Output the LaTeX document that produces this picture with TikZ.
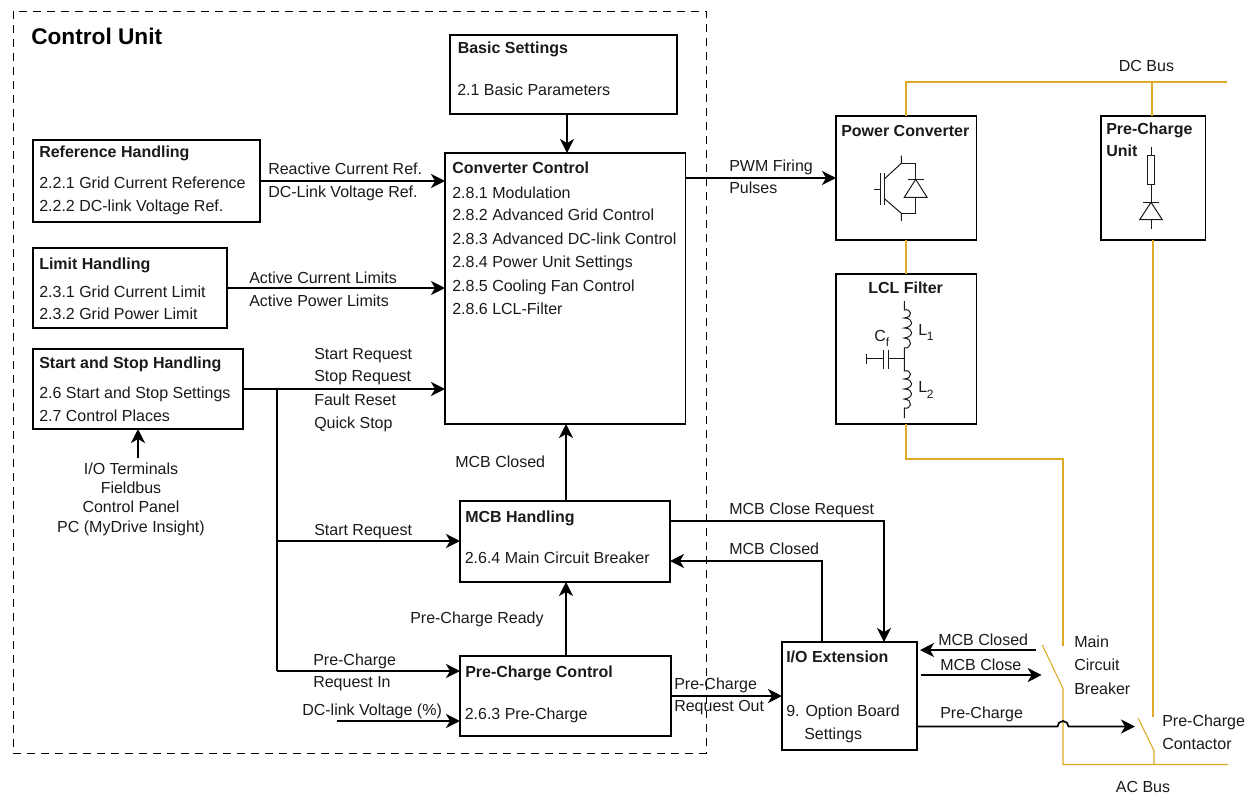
\documentclass[tikz,border=0pt]{standalone}
\usepackage{fontspec}
\setmainfont{Liberation Sans}
\usetikzlibrary{arrows.meta}
\definecolor{bus}{HTML}{D79B00}
\definecolor{ink}{HTML}{1A1A1A}
\tikzset{
  box/.style={draw=black,line width=1.3pt,inner sep=0pt,outer sep=0pt,anchor=north west},
  lbl/.style={anchor=base west,inner sep=0pt,text=ink,font=\fontsize{12pt}{14pt}\selectfont},
  ctr/.style={anchor=base,inner sep=0pt,text=ink,font=\fontsize{12pt}{14pt}\selectfont},
  ttl/.style={anchor=base west,inner sep=0pt,text=ink,font=\fontsize{12pt}{14pt}\selectfont\bfseries},
  sublbl/.style={anchor=base west,inner sep=0pt,text=ink,font=\fontsize{9pt}{10pt}\selectfont},
  arr/.style={draw=black,line width=1.3pt,-{Stealth[length=10.5pt,width=10.5pt,inset=3pt]}},
  wire/.style={draw=black,line width=1.3pt},
  buswire/.style={draw=bus!85,line width=0.8pt},
  sym/.style={draw=ink,line width=0.75pt},
}
\newcommand{\bx}[5]{\node[box,minimum width=#4*0.75pt-#2*0.75pt,minimum height=#5*0.75pt-#3*0.75pt] (#1) at (#2,#3) {};}
\begin{document}
\begin{tikzpicture}[x=0.75pt,y=-0.75pt]
\useasboundingbox (0,0) rectangle (1254,793);
% dashed frame
\node[box,draw=black,line width=0.75pt,dash pattern=on 6pt off 4.5pt,minimum width=693*0.75pt,minimum height=742*0.75pt] (frame) at (13,11) {};
% boxes
\bx{basic}{450}{35}{677}{114}
\bx{ref}{33}{140}{260}{222}
\bx{lim}{33}{248}{227}{328}
\bx{start}{33}{349}{243}{429}
\bx{conv}{445}{153}{685.5}{424}
\bx{mcb}{460}{501}{670}{582}
\bx{pre}{460}{656}{671}{736}
\bx{io}{782}{642}{917}{750}
\bx{pc}{836}{116}{976.5}{240}
\bx{lcl}{836}{274}{976.5}{424}
\bx{pu}{1101}{116}{1205.5}{240}
% bus coordinates
\coordinate (dcl) at (906,82);
\coordinate (dcm) at (1152,82);
\coordinate (dcr) at (1227,82);
\coordinate (aj) at (906,459);
\coordinate (ak) at (1063,459);
\coordinate (mcbtop) at (1063,646);
\coordinate (mcbsw) at (1042.3,645);
\coordinate (mcbpiv) at (1063,688.5);
\coordinate (acl) at (1063,764.5);
\coordinate (acm) at (1154,764.5);
\coordinate (acr) at (1228,764.5);
\coordinate (cctop) at (1153,716.5);
\coordinate (ccsw) at (1138.3,718.3);
\coordinate (ccpiv) at (1154,750.7);
\draw[buswire] (dcl |- pc.north) -- (dcl) -- (dcr);
\draw[buswire] (dcm) -- (dcm |- pu.north);
\draw[buswire] (dcl |- pc.south) -- (dcl |- lcl.north);
\draw[buswire] (dcl |- lcl.south) -- (aj) -- (ak) -- (mcbtop);
\draw[buswire] (mcbsw) -- (mcbpiv) -- (acl) -- (acr);
\draw[buswire] (cctop |- pu.south) -- (cctop);
\draw[buswire] (ccsw) -- (ccpiv) -- (acm);
% connectors
\coordinate (cx) at (567,100);
\coordinate (cy) at (566,100);
\draw[arr] (cx |- basic.south) -- (cx |- conv.north);
\draw[arr] (ref.east) -- (ref.east -| conv.west);
\draw[arr] (lim.east) -- (lim.east -| conv.west);
\draw[arr] (start.east) -- (start.east -| conv.west);
\draw[arr] (pc.west -| conv.east) -- (pc.west);
\draw[arr] (cy |- mcb.north) -- (cy |- conv.south);
\draw[arr] (cy |- pre.north) -- (cy |- mcb.south);
\coordinate (br1) at (277,389);
\coordinate (br2) at (277,541);
\coordinate (br3) at (277,671);
\draw[wire] (br1) -- (br3);
\draw[arr] (br2) -- (br2 -| mcb.west);
\draw[arr] (br3) -- (br3 -| pre.west);
\coordinate (dcv) at (337,721);
\draw[arr] (dcv) -- (dcv -| pre.west);
\coordinate (iot) at (138,458);
\draw[arr] (iot) -- (iot |- start.south);
\draw[arr] (pre.east) -- (pre.east -| io.west);
\coordinate (cr1) at (670,521);
\coordinate (cr2) at (884,521);
\draw[arr] (cr1) -- (cr2) -- (cr2 |- io.north);
\coordinate (cd1) at (822,642);
\coordinate (cd2) at (822,561);
\draw[arr] (cd1) -- (cd2) -- (cd2 -| mcb.east);
\coordinate (mc1) at (1036,650);
\coordinate (mc2) at (920,650);
\draw[arr] (mc1) -- (mc2);
\coordinate (mc3) at (920.7,675);
\coordinate (mc4) at (1041.7,675);
\draw[arr] (mc3) -- (mc4);
\coordinate (pc1) at (917,726.5);
\coordinate (pc2) at (1135,726.5);
\draw[arr] (pc1) -- (1057.5,726.5) arc[start angle=180,end angle=0,radius=5.5*0.75pt] -- (pc2);
% IGBT
\draw[sym] (874.3,189) -- (880.7,189);
\draw[sym] (880.7,173) -- (880.7,205);
\draw[sym] (884,173) -- (884,205);
\draw[sym] (884,179.3) -- (901.3,163.3) -- (901.3,155.7);
\draw[sym] (884,198.3) -- (901.3,213.3) -- (901.3,221);
\draw[sym] (901.3,163.3) -- (915.7,163.3) -- (915.7,179.3);
\draw[sym] (908,179.3) -- (923.7,179.3);
\draw[sym] (915.7,179.3) -- (927,197.3) -- (904.3,197.3) -- cycle;
\draw[sym] (915.7,197.3) -- (915.7,213.3) -- (901.3,213.3);
% Pre-charge symbol
\draw[sym] (1151,146.7) -- (1151,155.7);
\draw[sym] (1147.7,155.7) rectangle (1154.3,184.3);
\draw[sym] (1151,184.3) -- (1151,202.3);
\draw[sym] (1143.3,202) -- (1159,202);
\draw[sym] (1151,202.3) -- (1162.3,219.7) -- (1139.7,219.7) -- cycle;
\draw[sym] (1151,219.7) -- (1151,229);
% LCL symbol
\draw[sym] (904.3,301) -- (904.3,310)
  .. controls (911,308) and (914,317) .. (904.3,318)
  .. controls (914,318) and (914,327) .. (904.3,328)
  .. controls (914,328) and (914,337) .. (904.3,338)
  .. controls (914,339) and (911,349) .. (904.3,348) -- (904.3,371)
  .. controls (911,369) and (914,378) .. (904.3,379)
  .. controls (914,379) and (914,388) .. (904.3,389)
  .. controls (914,389) and (914,398) .. (904.3,399)
  .. controls (914,400) and (911,410) .. (904.3,408) -- (904.3,418);
\draw[sym] (904.3,358.7) -- (888,358.7);
\draw[sym] (888,350) -- (888,369);
\draw[sym] (883.5,350) -- (883.5,369);
\draw[sym] (883.5,358.7) -- (866,358.7);
\draw[sym] (866,354) -- (866,364);
% texts
\node[anchor=base west,inner sep=0pt,text=black,font=\fontsize{17pt}{18pt}\selectfont\bfseries] (tcu) at (31,44) {Control Unit};
\node[ttl] (t1) at (457.5,53.5) {Basic Settings};
\node[lbl] (t2) at (457,95) {2.1 Basic Parameters};
\node[ttl] (t3) at (39,157) {Reference Handling};
\node[lbl] (t4) at (39,188) {2.2.1 Grid Current Reference};
\node[lbl] (t5) at (39,211) {2.2.2 DC-link Voltage Ref.};
\node[ttl] (t6) at (39,269) {Limit Handling};
\node[lbl] (t7) at (39,297) {2.3.1 Grid Current Limit};
\node[lbl] (t8) at (39,319) {2.3.2 Grid Power Limit};
\node[ttl] (t9) at (39,368) {Start and Stop Handling};
\node[lbl] (t10) at (39,398) {2.6 Start and Stop Settings};
\node[lbl] (t11) at (39,421) {2.7 Control Places};
\node[ctr] (t12) at (131,474) {I/O Terminals};
\node[ctr] (t13) at (131,493) {Fieldbus};
\node[ctr] (t14) at (131,512) {Control Panel};
\node[ctr] (t15) at (131,532) {PC (MyDrive Insight)};
\node[lbl] (t16) at (268,174) {Reactive Current Ref.};
\node[lbl] (t17) at (268,197) {DC-Link Voltage Ref.};
\node[lbl] (t18) at (249,283) {Active Current Limits};
\node[lbl] (t19) at (249,306) {Active Power Limits};
\node[lbl] (t20) at (314,359) {Start Request};
\node[lbl] (t21) at (314,381) {Stop Request};
\node[lbl] (t22) at (314,405) {Fault Reset};
\node[lbl] (t23) at (314,428) {Quick Stop};
\node[ttl] (t24) at (452,173) {Converter Control};
\node[lbl] (t25) at (452,198) {2.8.1 Modulation};
\node[lbl] (t26) at (452,220) {2.8.2 Advanced Grid Control};
\node[lbl] (t27) at (452,244) {2.8.3 Advanced DC-link Control};
\node[lbl] (t28) at (452,267) {2.8.4 Power Unit Settings};
\node[lbl] (t29) at (452,291) {2.8.5 Cooling Fan Control};
\node[lbl] (t30) at (452,314) {2.8.6 LCL-Filter};
\node[lbl] (t31) at (729,171) {PWM Firing};
\node[lbl] (t32) at (729,193) {Pulses};
\node[lbl] (t33) at (455,467.5) {MCB Closed};
\node[ttl] (t34) at (465,522) {MCB Handling};
\node[lbl] (t35) at (464.5,563.5) {2.6.4 Main Circuit Breaker};
\node[lbl] (t36) at (314,535) {Start Request};
\node[lbl] (t37) at (410,623) {Pre-Charge Ready};
\node[ttl] (t38) at (465,677) {Pre-Charge Control};
\node[lbl] (t39) at (464.5,719) {2.6.3 Pre-Charge};
\node[lbl] (t40) at (313,665) {Pre-Charge};
\node[lbl] (t41) at (313,687) {Request In};
\node[lbl] (t42) at (302,715) {DC-link Voltage (\%)};
\node[lbl] (t43) at (674,689) {Pre-Charge};
\node[lbl] (t44) at (674,711) {Request Out};
\node[lbl] (t45) at (729,514) {MCB Close Request};
\node[lbl] (t46) at (729,554) {MCB Closed};
\node[ttl] (t47) at (786,662.5) {I/O Extension};
\node[lbl] (t48) at (786,716) {9. Option Board};
\node[lbl] (t49) at (804,739) {Settings};
\node[lbl] (t50) at (938,645) {MCB Closed};
\node[lbl] (t51) at (940,670) {MCB Close};
\node[lbl] (t52) at (940,718.5) {Pre-Charge};
\node[lbl] (t53) at (1074,647) {Main};
\node[lbl] (t54) at (1074,670) {Circuit};
\node[lbl] (t55) at (1074,694) {Breaker};
\node[lbl] (t56) at (1162,726) {Pre-Charge};
\node[lbl] (t57) at (1162,749) {Contactor};
\node[ctr] (t58) at (1146.5,71) {DC Bus};
\node[ctr] (t59) at (1143,792) {AC Bus};
\node[ttl] (t60) at (841,136) {Power Converter};
\node[ttl] (t61) at (868,293) {LCL Filter};
\node[ttl] (t62) at (1106,134) {Pre-Charge};
\node[ttl] (t63) at (1106,156) {Unit};
\node[lbl] (t64) at (874,341) {C};
\node[sublbl] (t64s) at (885.5,346) {f};
\node[lbl] (t65) at (918,335) {L};
\node[sublbl] (t65s) at (926.5,340) {1};
\node[lbl] (t66) at (918,392) {L};
\node[sublbl] (t66s) at (926.5,398) {2};
\end{tikzpicture}
\end{document}
